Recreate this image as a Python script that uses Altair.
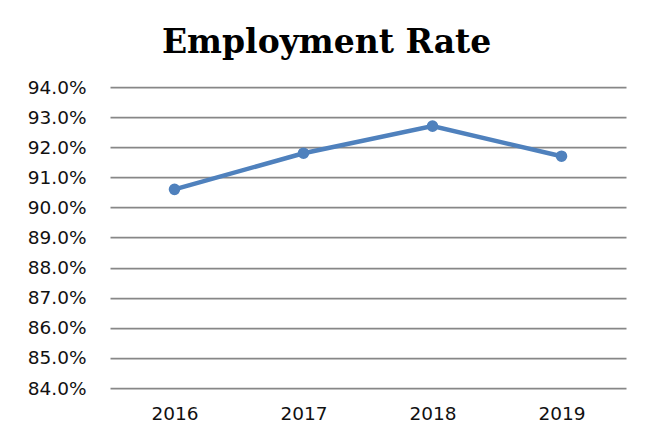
import altair as alt
import pandas as pd

years = ["2016", "2017", "2018", "2019"]
rates = [0.906, 0.918, 0.927, 0.917]
y_ticks = [0.84, 0.85, 0.86, 0.87, 0.88, 0.89, 0.90, 0.91, 0.92, 0.93, 0.94]

df = pd.DataFrame({"Year": years, "Rate": rates})

x = alt.X("Year:O", sort=years, title=None,
          scale=alt.Scale(type="point", padding=0.5),
          axis=alt.Axis(labelAngle=0, ticks=False, domain=False, grid=False,
                        labelPadding=16, labelFontSize=18.5, labelFont="DejaVu Sans",
                        labelColor="#111111"))
y = alt.Y("Rate:Q", title=None,
          scale=alt.Scale(domain=[0.84, 0.94], nice=False, zero=False),
          axis=alt.Axis(values=y_ticks, format=".1%", ticks=False, domain=False,
                        labelPadding=24, labelFontSize=18.5, labelFont="DejaVu Sans",
                        labelColor="#111111", gridColor="#878787", gridWidth=1.75))

base = alt.Chart(df).encode(x=x, y=y)
line = base.mark_line(color="#4F81BD", strokeWidth=4.5)
pts = base.mark_circle(color="#4F81BD", size=135, opacity=1)

chart = (line + pts).properties(
    width=516, height=301,
    padding={"left": 19, "top": 19, "right": 10, "bottom": 5},
    background="white",
    title=alt.TitleParams("Employment Rate", font="DejaVu Serif", fontSize=33,
                          fontWeight="bold", color="#000000", anchor="middle",
                          frame="bounds", offset=18),
).configure_view(stroke=None)

chart.save("out.html", embed_options={"renderer": "svg", "actions": False})
